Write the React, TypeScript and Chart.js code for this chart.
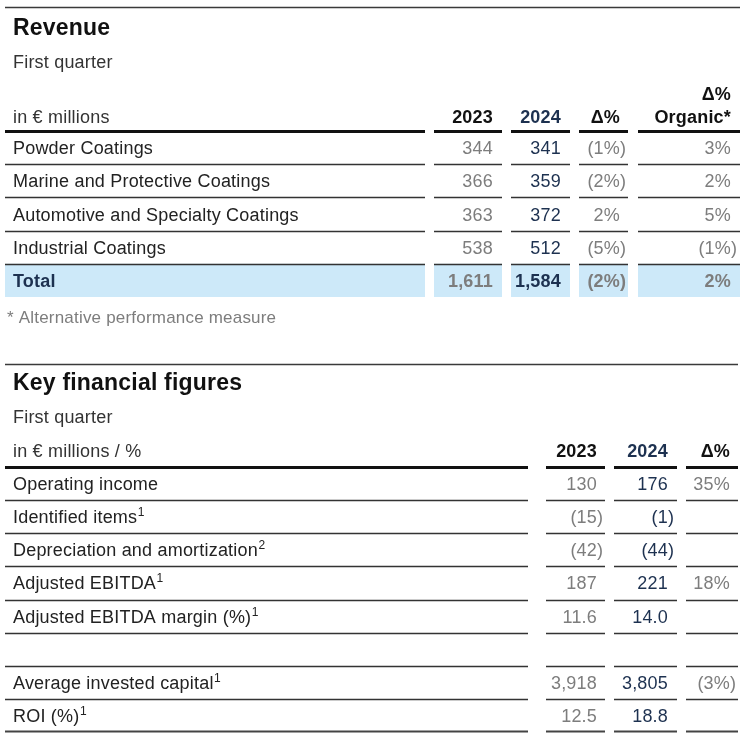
import React, { useEffect, useRef } from "react";
import { Chart, registerables } from "chart.js";

Chart.register(...registerables);

const FONT = '"Liberation Sans", Arial, Helvetica, sans-serif';

// ---------- Revenue table data ----------
const revTitle = "Revenue";
const revSubtitle = "First quarter";
const revUnit = "in € millions";
const revHeaders = [["2023"], ["2024"], ["Δ%"], ["Δ%", "Organic*"]];
const revCategories = [
  "Powder Coatings",
  "Marine and Protective Coatings",
  "Automotive and Specialty Coatings",
  "Industrial Coatings",
  "Total",
];
const rev2023 = [344, 366, 363, 538, 1611];
const rev2024 = [341, 359, 372, 512, 1584];
const revChange = [-1, -2, 2, -5, -2];
const revOrganic = [3, 2, 5, -1, 2];
const revFootnote = "* Alternative performance measure";

// ---------- Key financial figures data ----------
const kffTitle = "Key financial figures";
const kffSubtitle = "First quarter";
const kffUnit = "in € millions / %";
const kffHeaders = [["2023"], ["2024"], ["Δ%"]];
const kffCategories = [
  "Operating income",
  "Identified items",
  "Depreciation and amortization",
  "Adjusted EBITDA",
  "Adjusted EBITDA margin (%)",
  "",
  "Average invested capital",
  "ROI (%)",
];
const kffNotes = ["", "1", "2", "1", "1", "", "1", "1"];
const kffDecimals = [0, 0, 0, 0, 1, 0, 0, 1];
const kff2023 = [130, -15, -42, 187, 11.6, null, 3918, 12.5];
const kff2024 = [176, -1, -44, 221, 14.0, null, 3805, 18.8];
const kffChange = [35, null, null, 18, null, null, -3, null];

// ---------- formatting ----------
const fmtNum = (v: number | null, dec = 0) => {
  if (v === null || v === undefined) return "";
  const s = Math.abs(v).toLocaleString("en-US", {
    minimumFractionDigits: dec,
    maximumFractionDigits: dec,
  });
  return v < 0 ? `(${s})` : s;
};
const fmtPct = (v: number | null) => {
  if (v === null || v === undefined) return "";
  return v < 0 ? `(${Math.abs(v)}%)` : `${v}%`;
};

// ---------- styles ----------
const GRAY = "#7d7d7d";
const NAVY = "#1d3150";
const DARK = "#222222";
const BLACK = "#111111";
const HILITE = "#cde9f9";

type Col = { start: number; end: number; right?: number; color: string; headColor: string };

type TableSpec = {
  title: string;
  subtitle: string;
  unit: string;
  headers: string[][];
  rows: string[];
  notes: string[];
  cells: string[][];
  totalRow: number;
  footnote?: string;
  cols: Col[];
  layout: {
    ruleAbove: number;
    titleAbove: number;
    subtitleAbove: number;
    unitAbove: number;
    headAbove: number;
    headLineGap: number;
    footBelow: number;
    lineAfterLast: boolean;
  };
};

const revSpec: TableSpec = {
  title: revTitle,
  subtitle: revSubtitle,
  unit: revUnit,
  headers: revHeaders,
  rows: revCategories,
  notes: revCategories.map(() => ""),
  cells: [
    rev2023.map((v) => fmtNum(v)),
    rev2024.map((v) => fmtNum(v)),
    revChange.map(fmtPct),
    revOrganic.map(fmtPct),
  ],
  totalRow: 4,
  footnote: revFootnote,
  cols: [
    { start: 5, end: 425, color: DARK, headColor: BLACK },
    { start: 434, end: 502, right: 493, color: GRAY, headColor: BLACK },
    { start: 511, end: 570, right: 561, color: NAVY, headColor: NAVY },
    { start: 579, end: 628, right: 620, color: GRAY, headColor: BLACK },
    { start: 638, end: 740, right: 731, color: GRAY, headColor: BLACK },
  ],
  layout: {
    ruleAbove: 124,
    titleAbove: 96,
    subtitleAbove: 63,
    unitAbove: 8,
    headAbove: 8,
    headLineGap: 23,
    footBelow: 26,
    lineAfterLast: false,
  },
};

const kffSpec: TableSpec = {
  title: kffTitle,
  subtitle: kffSubtitle,
  unit: kffUnit,
  headers: kffHeaders,
  rows: kffCategories,
  notes: kffNotes,
  cells: [
    kff2023.map((v, i) => fmtNum(v, kffDecimals[i])),
    kff2024.map((v, i) => fmtNum(v, kffDecimals[i])),
    kffChange.map(fmtPct),
  ],
  totalRow: -1,
  cols: [
    { start: 5, end: 528, color: DARK, headColor: BLACK },
    { start: 546, end: 605, right: 597, color: GRAY, headColor: BLACK },
    { start: 614, end: 677, right: 668, color: NAVY, headColor: NAVY },
    { start: 686, end: 738, right: 730, color: GRAY, headColor: BLACK },
  ],
  layout: {
    ruleAbove: 103,
    titleAbove: 77,
    subtitleAbove: 44,
    unitAbove: 10,
    headAbove: 10,
    headLineGap: 23,
    footBelow: 0,
    lineAfterLast: true,
  },
};

function drawRightText(ctx: CanvasRenderingContext2D, text: string, right: number, y: number) {
  // closing parenthesis hangs past the right edge
  let x = right;
  if (text.endsWith(")")) {
    x += ctx.measureText(")").width;
  }
  ctx.textAlign = "right";
  ctx.fillText(text, x, y);
}

function hLine(ctx: CanvasRenderingContext2D, x1: number, x2: number, y: number, w: number, color: string) {
  ctx.save();
  ctx.strokeStyle = color;
  ctx.lineWidth = w;
  const yy = Math.round(y) + 0.5;
  ctx.beginPath();
  ctx.moveTo(x1, yy);
  ctx.lineTo(x2, yy);
  ctx.stroke();
  ctx.restore();
}

function makeTablePlugin(spec: TableSpec) {
  return {
    id: "tableDraw",
    afterDraw(chart: any) {
      const { ctx, chartArea } = chart;
      const xs = chart.scales.x;
      const ys = chart.scales.y;
      const n = spec.rows.length;
      const rowH = ys.getPixelForValue(1) - ys.getPixelForValue(0);
      const rowTop = (i: number) => ys.getPixelForValue(i) - rowH / 2;
      const L = spec.layout;
      const top = chartArea.top;
      const X = (v: number) => xs.getPixelForValue(v);
      const labelX = X(spec.cols[0].start) + 8;

      ctx.save();
      ctx.textBaseline = "alphabetic";
      (ctx as any).letterSpacing = "0.2px";

      // highlight band for total row
      if (spec.totalRow >= 0) {
        const t = rowTop(spec.totalRow);
        ctx.fillStyle = HILITE;
        spec.cols.forEach((c) => {
          ctx.fillRect(X(c.start), t, X(c.end) - X(c.start), rowH);
        });
      }

      // title rule
      hLine(ctx, X(spec.cols[0].start), X(spec.cols[spec.cols.length - 1].end), top - L.ruleAbove, 1.5, "#3a3a3a");

      // title, subtitle, unit
      ctx.textAlign = "left";
      ctx.fillStyle = BLACK;
      ctx.font = `bold 23px ${FONT}`;
      ctx.fillText(spec.title, labelX, top - L.titleAbove);
      ctx.fillStyle = "#333";
      ctx.font = `18px ${FONT}`;
      ctx.fillText(spec.subtitle, labelX, top - L.subtitleAbove);
      ctx.fillText(spec.unit, labelX, top - L.unitAbove);

      // column headers
      ctx.font = `bold 18px ${FONT}`;
      spec.headers.forEach((lines, ci) => {
        const col = spec.cols[ci + 1];
        ctx.fillStyle = col.headColor;
        lines.forEach((ln, li) => {
          const y = top - L.headAbove - (lines.length - 1 - li) * L.headLineGap;
          ctx.textAlign = "right";
          ctx.fillText(ln, X(col.right!), y);
        });
      });

      // header rule (thick)
      spec.cols.forEach((c) => hLine(ctx, X(c.start), X(c.end), top - 0.5, 3, "#111"));

      // row rules
      for (let i = 1; i < n; i++) {
        const y = rowTop(i);
        spec.cols.forEach((c) => hLine(ctx, X(c.start), X(c.end), y, 1.5, "#333"));
      }
      if (L.lineAfterLast) {
        const y = rowTop(n - 1) + rowH;
        spec.cols.forEach((c) => hLine(ctx, X(c.start), X(c.end), y - 1, 2, "#444"));
      }

      // rows
      for (let i = 0; i < n; i++) {
        const cy = ys.getPixelForValue(i);
        const base = cy + 6.5;
        const isTotal = i === spec.totalRow;
        // label
        ctx.textAlign = "left";
        ctx.fillStyle = isTotal ? NAVY : DARK;
        ctx.font = `${isTotal ? "bold " : ""}18px ${FONT}`;
        const label = spec.rows[i];
        ctx.fillText(label, labelX, base);
        const note = spec.notes[i];
        if (note) {
          const w = ctx.measureText(label).width;
          ctx.font = `12px ${FONT}`;
          ctx.fillText(note, labelX + w + 0.5, base - 7);
        }
        // values
        spec.cells.forEach((colVals, ci) => {
          const col = spec.cols[ci + 1];
          const txt = colVals[i];
          if (!txt) return;
          ctx.fillStyle = col.color;
          ctx.font = `${isTotal ? "bold " : ""}18px ${FONT}`;
          drawRightText(ctx, txt, X(col.right!), base);
        });
      }

      // footnote
      if (spec.footnote) {
        ctx.textAlign = "left";
        ctx.fillStyle = GRAY;
        ctx.font = `17px ${FONT}`;
        ctx.fillText(spec.footnote, X(spec.cols[0].start) + 2, chartArea.bottom + L.footBelow);
      }
      ctx.restore();
    },
  };
}

function TableChart({ spec, height, pad }: { spec: TableSpec; height: number; pad: { top: number; bottom: number } }) {
  const ref = useRef<HTMLCanvasElement | null>(null);
  useEffect(() => {
    if (!ref.current) return;
    const first = spec.cols[0].start;
    const chart = new Chart(ref.current, {
      type: "bar",
      data: { labels: spec.rows.map((r, i) => r || `row${i}`), datasets: [] },
      options: {
        responsive: false,
        animation: false,
        indexAxis: "y",
        layout: { padding: { top: pad.top, bottom: pad.bottom, left: 5, right: 743 - 740 } },
        scales: {
          x: { type: "linear", min: first, max: first + (740 - 5), display: false },
          y: { type: "category", offset: true, display: false },
        },
        plugins: { legend: { display: false }, tooltip: { enabled: false }, title: { display: false } },
        events: [],
      },
      plugins: [makeTablePlugin(spec) as any],
    } as any);
    return () => chart.destroy();
  }, [spec, height, pad]);
  return <canvas ref={ref} width={743} height={height} style={{ display: "block", width: 743, height }} />;
}

const pad1 = { top: 131, bottom: 48 };
const pad2 = { top: 122, bottom: 8 };

export default function App() {
  useEffect(() => {
    document.body.style.margin = "0";
    document.body.style.background = "#ffffff";
  }, []);
  return (
    <div style={{ width: 743, height: 740, background: "#fff", overflow: "hidden" }}>
      <TableChart spec={revSpec} height={345} pad={pad1} />
      <TableChart spec={kffSpec} height={395} pad={pad2} />
    </div>
  );
}
